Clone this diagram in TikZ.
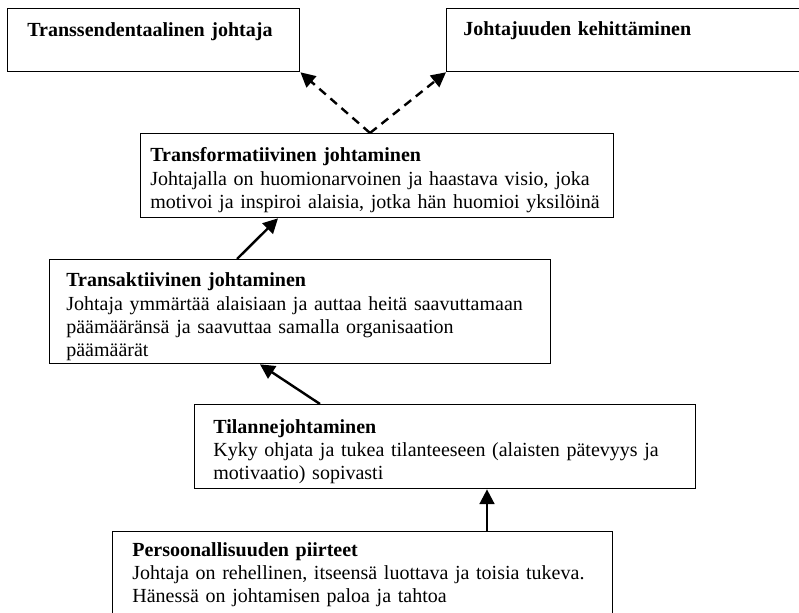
\documentclass[tikz,border=0pt]{standalone}
\usepackage{fontspec}
\setmainfont{Liberation Serif}
\usetikzlibrary{arrows.meta,calc}

\begin{document}
\begin{tikzpicture}[
    x=0.58pt, y=-0.58pt,
    font=\fontsize{11.6pt}{13.5pt}\selectfont,
    box/.style={draw=black, line width=0.8pt, inner sep=0pt, anchor=north west},
    boxtext/.style={anchor=base west, align=left, text width=300pt, inner sep=0pt},
    arrow/.style={-{Triangle[length=8.5pt, width=8.5pt]}, line width=1.4pt},
    dasharrow/.style={arrow, dash pattern=on 5pt off 3.5pt}
]

\useasboundingbox (0,0) rectangle (799,613);

% boxes
\node[box, minimum width=169.4pt, minimum height=36.5pt] (transs) at (7,8) {};
\node[box, minimum width=228.5pt, minimum height=36.5pt] (kehitys) at (446,8) {};
\node[box, minimum width=274.3pt, minimum height=48.7pt] (transf) at (140,133) {};
\node[box, minimum width=290.6pt, minimum height=60.3pt] (transak) at (49,259) {};
\node[box, minimum width=290.6pt, minimum height=48.7pt] (tilanne) at (194,404) {};
\node[box, minimum width=290pt, minimum height=52.2pt] (persoona) at (112,531) {};

% texts
\node[boxtext] (transs-txt) at ($(transs.north west)+(20,29)$)
    {\textbf{Transsendentaalinen johtaja}};
\node[boxtext] (kehitys-txt) at ($(kehitys.north west)+(17,28)$)
    {\textbf{Johtajuuden kehittäminen}};
\node[boxtext] (transf-txt) at ($(transf.north west)+(10,29)$)
    {\textbf{Transformatiivinen johtaminen}\\
     Johtajalla on huomionarvoinen ja haastava visio, joka\\
     motivoi ja inspiroi alaisia, jotka hän huomioi yksilöinä};
\node[boxtext] (transak-txt) at ($(transak.north west)+(17,28)$)
    {\textbf{Transaktiivinen johtaminen}\\
     Johtaja ymmärtää alaisiaan ja auttaa heitä saavuttamaan\\
     päämääränsä ja saavuttaa samalla organisaation\\
     päämäärät};
\node[boxtext] (tilanne-txt) at ($(tilanne.north west)+(19,29)$)
    {\textbf{Tilannejohtaminen}\\
     Kyky ohjata ja tukea tilanteeseen (alaisten pätevyys ja\\
     motivaatio) sopivasti};
\node[boxtext] (persoona-txt) at ($(persoona.north west)+(20,25)$)
    {\textbf{Persoonallisuuden piirteet}\\
     Johtaja on rehellinen, itseensä luottava ja toisia tukeva.\\
     Hänessä on johtamisen paloa ja tahtoa};

% connectors
\coordinate (top) at ($(transf.north west)+(230,0)$);
\draw[dasharrow] (top) -- (transs.south east);
\draw[dasharrow] (top) -- (kehitys.south west);
\draw[arrow] ($(transak.north west)+(188,0)$) -- ($(transf.south west)+(138,0)$);
\draw[arrow] ($(tilanne.north west)+(126,0)$) -- ($(transak.south west)+(211,0)$);
\draw[arrow] ($(persoona.north west)+(375,0)$) -- ($(tilanne.south west)+(293,0)$);

\end{tikzpicture}
\end{document}
